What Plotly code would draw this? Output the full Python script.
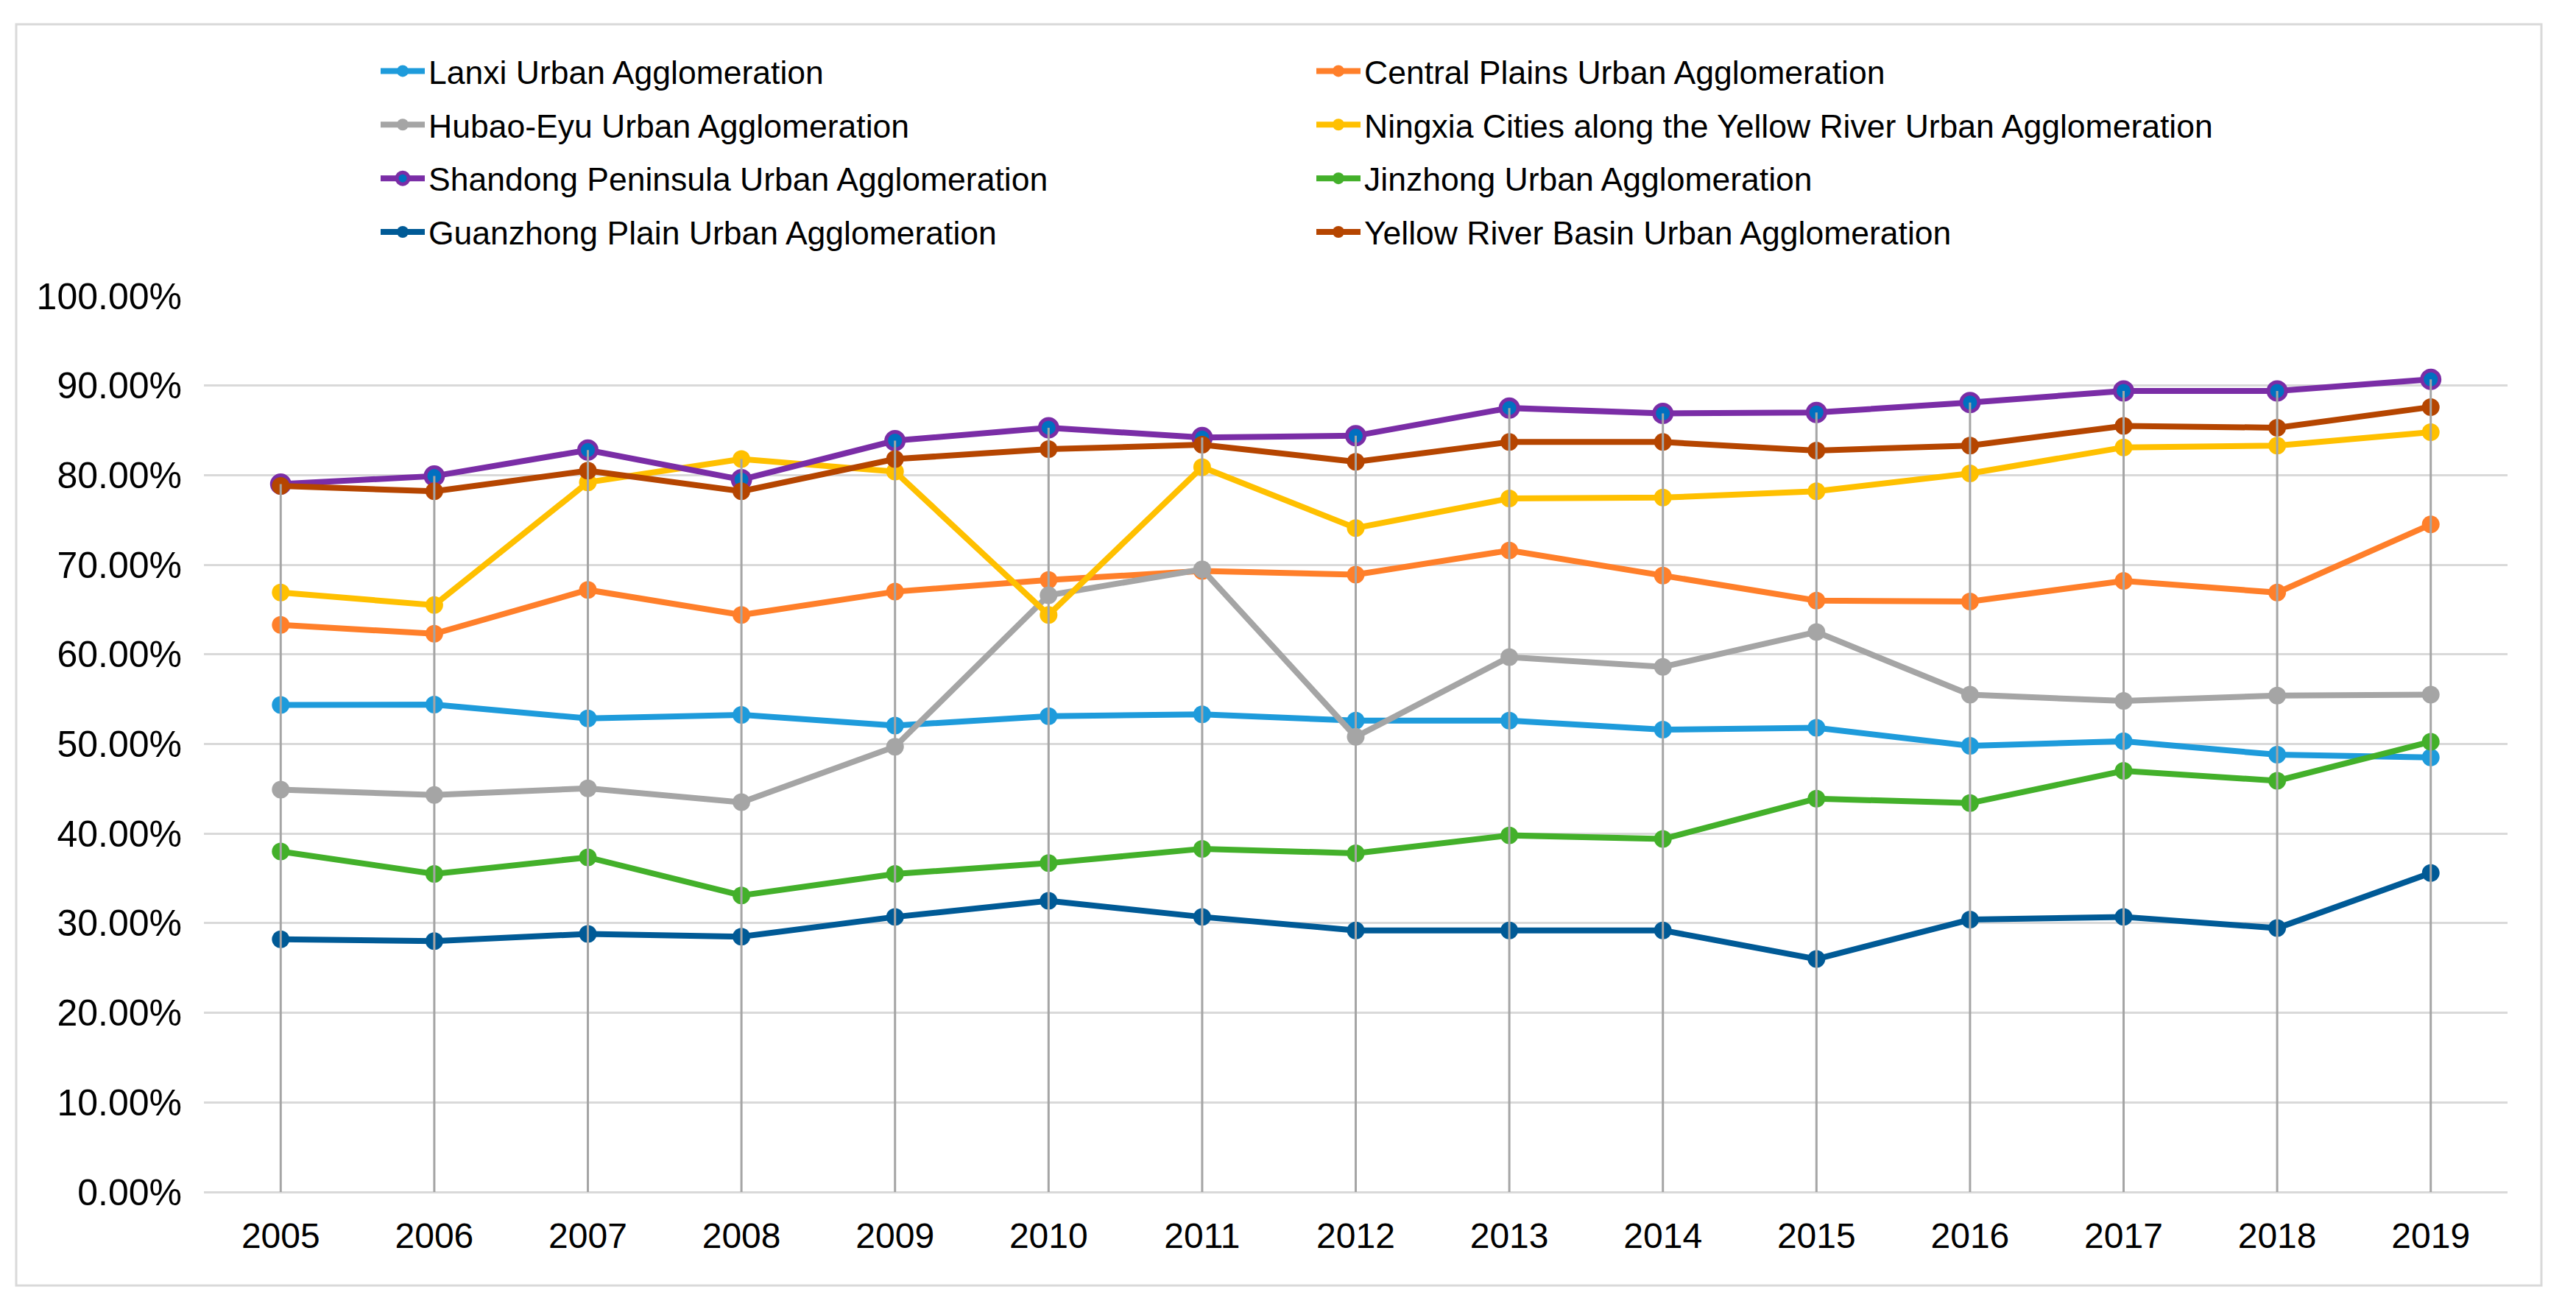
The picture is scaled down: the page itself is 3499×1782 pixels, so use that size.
import plotly.graph_objects as go

years = [str(y) for y in range(2005, 2020)]

lanxi = [54.35, 54.4, 52.85, 53.25, 52.05, 53.1, 53.3, 52.6, 52.6, 51.6, 51.8, 49.8, 50.3, 48.8, 48.5]
central_plains = [63.3, 62.3, 67.2, 64.4, 67.0, 68.3, 69.3, 68.9, 71.6, 68.8, 66.0, 65.9, 68.2, 66.9, 74.5]
hubao_eyu = [44.9, 44.3, 45.05, 43.5, 49.7, 66.6, 69.5, 50.8, 59.7, 58.6, 62.5, 55.5, 54.8, 55.4, 55.5]
ningxia = [66.9, 65.5, 79.2, 81.8, 80.4, 64.4, 80.9, 74.1, 77.4, 77.5, 78.2, 80.2, 83.1, 83.3, 84.8]
shandong = [79.0, 79.9, 82.8, 79.5, 83.85, 85.3, 84.2, 84.4, 87.5, 86.9, 87.0, 88.1, 89.4, 89.4, 90.7]
jinzhong = [38.0, 35.5, 37.35, 33.1, 35.5, 36.7, 38.3, 37.8, 39.8, 39.4, 43.9, 43.4, 47.0, 45.9, 50.25]
guanzhong = [28.2, 28.0, 28.8, 28.5, 30.7, 32.5, 30.7, 29.2, 29.2, 29.2, 26.0, 30.4, 30.7, 29.45, 35.6]
yellow_river = [78.8, 78.2, 80.5, 78.2, 81.8, 82.9, 83.4, 81.5, 83.7, 83.7, 82.75, 83.3, 85.5, 85.3, 87.6]

y_ticks = list(range(0, 101, 10))
y_tick_labels = [f"{v:.2f}%" for v in y_ticks]

series = [
    ("Lanxi Urban Agglomeration", lanxi, "#1E9BDB", "#1E9BDB", "legend"),
    ("Central Plains Urban Agglomeration", central_plains, "#FF7F2A", "#FF7F2A", "legend2"),
    ("Hubao-Eyu Urban Agglomeration", hubao_eyu, "#A5A5A5", "#A5A5A5", "legend"),
    ("Ningxia Cities along the Yellow River Urban Agglomeration", ningxia, "#FFC000", "#FFC000", "legend2"),
    ("Shandong Peninsula Urban Agglomeration", shandong, "#7A2DA6", "#0070C0", "legend"),
    ("Jinzhong Urban Agglomeration", jinzhong, "#43B02A", "#43B02A", "legend2"),
    ("Guanzhong Plain Urban Agglomeration", guanzhong, "#005A96", "#005A96", "legend"),
    ("Yellow River Basin Urban Agglomeration", yellow_river, "#B54500", "#B54500", "legend2"),
]

FONT = "Arial, 'Liberation Sans', sans-serif"

# page body has an 8px margin; figure is sized to fit inside the window
OFF = 8
W, H = 3499 - 2 * OFF, 1782 - 2 * OFF
L, T = 277 - OFF, 402 - OFF
R = W - (3406 - OFF)
B = H - (1619 - OFF)
PW, PH = W - L - R, H - T - B

def px_x(x_screen):
    return (x_screen - OFF - L) / PW

def px_y(y_screen):
    return (H - B - (y_screen - OFF)) / PH

fig = go.Figure()
for name, vals, lc, mc, lg in series:
    fig.add_trace(go.Scatter(
        x=years, y=vals, name=name, mode="lines+markers",
        line=dict(color=lc, width=8),
        marker=dict(size=24, color=mc, line=dict(color=lc, width=5 if mc != lc else 0)),
        legend=lg, legendgroup=name,
    ))

# drop lines from the top series down to the axis
all_series = [s[1] for s in series]
drop_x, drop_y = [], []
for j, yr in enumerate(years):
    top = max(s[j] for s in all_series)
    drop_x += [yr, yr, None]
    drop_y += [0, top, None]
fig.add_trace(go.Scatter(x=drop_x, y=drop_y, mode="lines", showlegend=False,
                         line=dict(color="#A5A5A5", width=3), hoverinfo="skip"))

legend_common = dict(
    orientation="v", xanchor="left", yanchor="top",
    font=dict(family=FONT, size=44.5, color="#000000"),
    bgcolor="rgba(0,0,0,0)", traceorder="grouped", tracegroupgap=12,
    itemwidth=60,
)

fig.update_layout(
    width=W, height=H,
    margin=dict(l=L, r=R, t=T, b=B),
    paper_bgcolor="white", plot_bgcolor="white",
    font=dict(family=FONT, size=48, color="#000000"),
    xaxis=dict(type="category", range=[-0.5, 14.5], showgrid=False,
               showline=False, ticks="", tickfont=dict(size=48, color="#000000"),
               ticklabelstandoff=27),
    yaxis=dict(range=[0, 100], tickvals=y_ticks, ticktext=y_tick_labels,
               showgrid=True, gridcolor="#D9D9D9", gridwidth=3,
               zeroline=True, zerolinecolor="#D9D9D9", zerolinewidth=3,
               showline=False, ticks="", tickfont=dict(size=50, color="#000000"),
               ticklabelstandoff=29),
    legend=dict(x=px_x(512), y=px_y(61), **legend_common),
    legend2=dict(x=px_x(1783), y=px_y(61), **legend_common),
    shapes=[dict(type="rect", xref="paper", yref="paper",
                 x0=px_x(22), x1=px_x(3452), y0=px_y(1746), y1=px_y(33),
                 line=dict(color="#D9D9D9", width=3), layer="below")],
)

fig.write_html("out.html")
